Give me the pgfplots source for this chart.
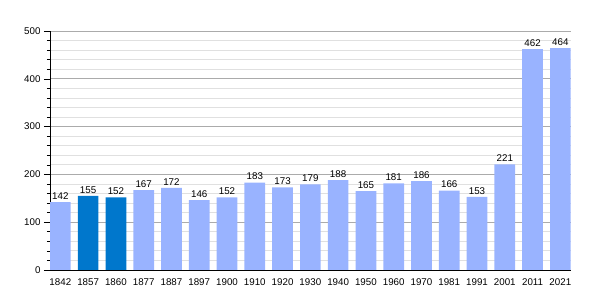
\documentclass[border=0pt]{standalone}
\usepackage{fontspec}
\setmainfont{Liberation Sans}
\usepackage{pgfplots}
\pgfplotsset{compat=1.18}
\definecolor{lb}{RGB}{153,179,255}
\definecolor{db}{RGB}{0,119,204}
\begin{document}
\begin{tikzpicture}[font=\fontsize{9.8}{12}\selectfont]
\useasboundingbox (0,0) rectangle (600bp,300bp);
\begin{axis}[at={(50bp,30bp)}, anchor=south west, scale only axis,
  width=520.7bp, height=239bp,
  xmin=-0.3725, xmax=18.3725, ymin=0, ymax=500,
  axis x line*=bottom, axis y line*=left,
  axis line style={black, line width=0.8pt},
  /pgf/number format/assume math mode=true,
  ytick={0,100,...,500}, minor y tick num=4,
  ymajorgrids, yminorgrids,
  major grid style={draw=black!33, line width=0.8pt},
  minor grid style={draw=black!12, line width=0.8pt},
  tick align=outside,
  major tick length=6bp, minor tick length=3bp,
  tick style={black, line width=0.6pt},
  xtick={0,...,18},
  xticklabels={1842,1857,1860,1877,1887,1897,1900,1910,1920,1930,1940,1950,1960,1970,1981,1991,2001,2011,2021},
  x tick style={draw=none},
  xticklabel style={yshift=1bp},
  ybar, bar width=20.7bp, bar shift=0pt,
  nodes near coords={\pgfmathprintnumber{\pgfplotspointmeta}},
  every node near coord/.append style={text=black, font=\fontsize{9.8}{12}\selectfont, inner sep=2.5bp},
]
\addplot[draw=none, fill=lb] coordinates {
 (0,142) (3,167) (4,172) (5,146) (6,152) (7,183) (8,173) (9,179) (10,188)
 (11,165) (12,181) (13,186) (14,166) (15,153) (16,221) (17,462) (18,464)};
\addplot[draw=none, fill=db] coordinates {(1,155) (2,152)};
\end{axis}
\end{tikzpicture}
\end{document}
